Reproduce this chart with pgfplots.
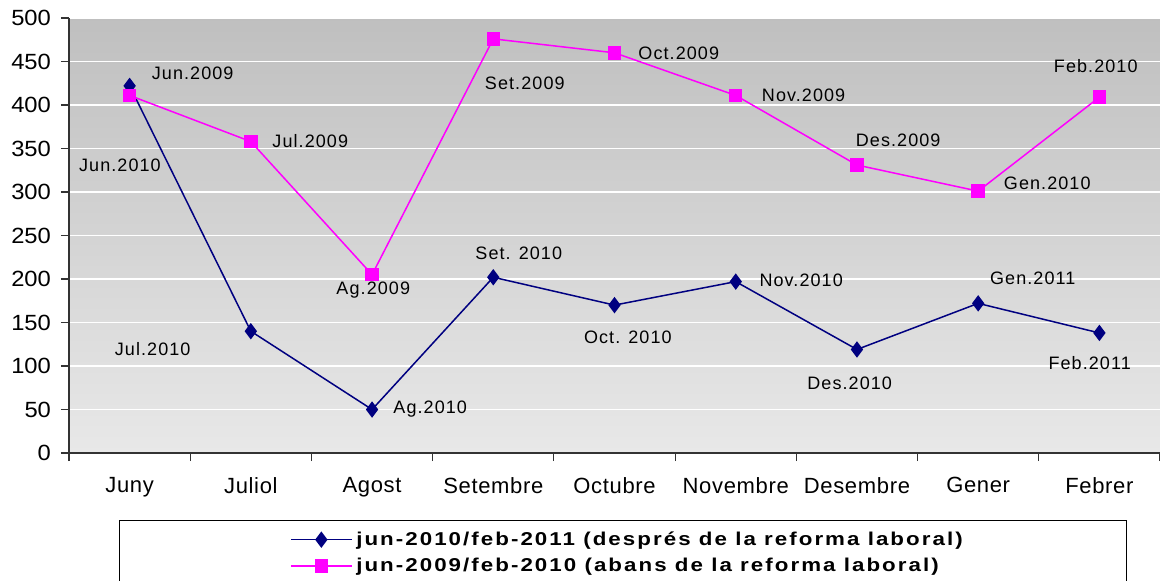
\documentclass[border=0pt]{standalone}
\usepackage{pgfplots}
\pgfplotsset{compat=1.18}
\usepackage{fontspec}
\setmainfont{Liberation Sans}

\definecolor{blaufosc}{HTML}{000080}
\definecolor{rosa}{HTML}{FF00FF}

\begin{document}
\begin{tikzpicture}[
  lbl/.style={font=\fontsize{9}{10}\selectfont\addfontfeatures{LetterSpace=6}, text=black, inner sep=0pt}
]
\begin{axis}[
  name=ax,
  scale only axis,
  width=545.5pt, height=217.5pt,
  xmin=-0.5, xmax=8.5,
  ymin=0, ymax=500,
  ytick={0,50,...,500},
  xtick={-0.5,0.5,...,8.5},
  xticklabels={},
  extra x ticks={0,1,...,8},
  extra x tick labels={Juny,Juliol,Agost,Setembre,Octubre,Novembre,Desembre,Gener,Febrer},
  extra x tick style={tick style={draw=none},
    xticklabel style={yshift=-4.5pt, font=\fontsize{11}{12}\selectfont\addfontfeatures{LetterSpace=3}}},
  axis lines*=left,
  axis line style={black!80, line width=0.6pt},
  tick align=outside,
  major tick length=4pt,
  tick style={black!80, line width=0.6pt},
  ymajorgrids,
  major grid style={white, line width=0.6pt},
  axis background/.style={top color=black!25, bottom color=black!9},
  /pgf/number format/assume math mode=true,
  yticklabel style={xshift=-1.5pt, font=\fontsize{11}{12}\selectfont\addfontfeatures{FakeStretch=1.08}},
  legend style={
    at={(axis description cs:0.2026,-0.17)}, anchor=north west,
    draw=none, fill=none,
    font=\bfseries\fontsize{9.3}{10}\selectfont\addfontfeatures{FakeStretch=1.2,LetterSpace=11},
    row sep=1pt, inner sep=0pt,
  },
  legend cell align=left,
  legend image code/.code={
    \draw[mark repeat=2,mark phase=2] plot coordinates {(0cm,0cm) (0.53cm,0cm) (1.06cm,0cm)};
  },
]
\addplot[blaufosc, line width=0.75pt, mark=diamond*, mark size=3.5pt, mark options={solid}]
  coordinates {(0,422) (1,140) (2,50) (3,202) (4,170) (5,197) (6,119) (7,172) (8,138)};
\addlegendentry{jun-2010/feb-2011 (després de la reforma laboral)}
\addplot[rosa, line width=0.75pt, mark=square*, mark size=3pt, mark options={solid}]
  coordinates {(0,411) (1,358) (2,205) (3,476) (4,460) (5,411) (6,331) (7,301) (8,409)};
\addlegendentry{jun-2009/feb-2010 (abans de la reforma laboral)}

% etiquetes de dades
\node[lbl] at (axis cs:0.52,437) {Jun.2009};
\node[lbl] at (axis cs:-0.08,331) {Jun.2010};
\node[lbl] at (axis cs:1.49,359) {Jul.2009};
\node[lbl] at (axis cs:0.19,120) {Jul.2010};
\node[lbl] at (axis cs:2.01,187) {Ag.2009};
\node[lbl] at (axis cs:2.48,51) {Ag.2010};
\node[lbl] at (axis cs:3.26,425) {Set.2009};
\node[lbl] at (axis cs:3.21,230) {Set. 2010};
\node[lbl] at (axis cs:4.53,460) {Oct.2009};
\node[lbl] at (axis cs:4.11,133) {Oct. 2010};
\node[lbl] at (axis cs:5.56,411) {Nov.2009};
\node[lbl] at (axis cs:5.54,198) {Nov.2010};
\node[lbl] at (axis cs:6.34,359) {Des.2009};
\node[lbl] at (axis cs:5.94,80) {Des.2010};
\node[lbl] at (axis cs:7.57,310) {Gen.2010};
\node[lbl] at (axis cs:7.45,201) {Gen.2011};
\node[lbl] at (axis cs:7.97,445) {Feb.2010};
\node[lbl] at (axis cs:7.92,103) {Feb.2011};
\end{axis}
% marc de la llegenda
\draw[black, line width=0.5pt] ([shift={(25pt,-33.5pt)}]ax.south west) rectangle ([shift={(528.5pt,-72pt)}]ax.south west);
\pgfresetboundingbox
\path ([shift={(-34.5pt,-63.5pt)}]ax.south west) rectangle ([shift={(545.5pt,226.5pt)}]ax.south west);
\end{tikzpicture}
\end{document}
